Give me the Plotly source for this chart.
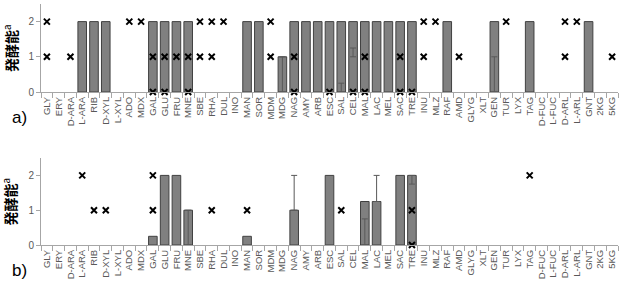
import plotly.graph_objects as go

categories = ["GLY","ERY","D-ARA","L-ARA","RIB","D-XYL","L-XYL","ADO","MDX","GAL","GLU","FRU","MNE","SBE",
              "RHA","DUL","INO","MAN","SOR","MDM","MDG","NAG","AMY","ARB","ESC","SAL","CEL","MAL","LAC","MEL",
              "SAC","TRE","INU","MLZ","RAF","AMD","GLYG","XLT","GEN","TUR","LYX","TAG","D-FUC","L-FUC","D-ARL",
              "L-ARL","GNT","2KG","5KG"]

# Panel a) bars
a_bar_cats = ["L-ARA","RIB","D-XYL","GAL","GLU","FRU","MNE","MAN","SOR","MDG","NAG","AMY","ARB","ESC","SAL",
              "CEL","MAL","LAC","MEL","SAC","TRE","RAF","GEN","TAG","GNT"]
a_bar_vals = [2,2,2,2,2,2,2,2,2,1,2,2,2,2,2,2,2,2,2,2,2,2,2,2,2]
# Panel a) individual points (x marks)
a_pt_cats = ["GLY","GLY","D-ARA","ADO","MDX","GAL","GAL","GLU","GLU","FRU","MNE","MNE","SBE","SBE","RHA","RHA",
             "DUL","MDM","MDM","NAG","NAG","ESC","CEL","MAL","MAL","SAC","SAC","TRE","INU","INU","MLZ","AMD",
             "TUR","D-ARL","D-ARL","L-ARL","5KG"]
a_pt_vals = [2,1,1,2,2,1,0,1,0,1,1,0,2,1,2,1,
             2,2,1,1,0,0,0,1,0,1,0,0,2,1,2,1,
             2,2,1,2,1]
# Panel a) error bar segments: category, base, plus
a_err_cats = ["MDG","SAL","CEL","GEN"]
a_err_base = [0, 0, 1.0, 0]
a_err_plus = [1, 0.25, 0.25, 1]

# Panel b) bars
b_bar_cats = ["GAL","GLU","FRU","MNE","MAN","NAG","ESC","MAL","LAC","SAC","TRE"]
b_bar_vals = [0.25,2,2,1,0.25,1,2,1.25,1.25,2,2]
b_pt_cats = ["L-ARA","RIB","D-XYL","GAL","GAL","RHA","MAN","SAL","TRE","TRE","TAG"]
b_pt_vals = [2,1,1,2,1,1,1,1,1,0,2]
b_err_cats = ["MNE","NAG","MAL","LAC","TRE"]
b_err_base = [0, 1, 0, 1.25, 1.75]
b_err_plus = [1, 1, 0.75, 0.75, 0.25]

fig = go.Figure()

def add_panel(bx, by, px, py, ec, eb, ep, xa, ya):
    fig.add_trace(go.Bar(x=bx, y=by, xaxis=xa, yaxis=ya, marker=dict(color="#808080",
                         line=dict(color="#404040", width=1)), showlegend=False, hoverinfo="skip"))
    fig.add_trace(go.Scatter(x=ec, y=eb, xaxis=xa, yaxis=ya, mode="markers",
                             marker=dict(size=1, color="rgba(0,0,0,0)"),
                             error_y=dict(type="data", symmetric=False, array=ep,
                                          arrayminus=[0]*len(ep), color="#595959", thickness=1, width=3),
                             showlegend=False, hoverinfo="skip"))
    fig.add_trace(go.Scatter(x=px, y=py, xaxis=xa, yaxis=ya, mode="markers",
                             marker=dict(symbol="x-thin", size=6, color="black",
                                         line=dict(color="black", width=2)),
                             showlegend=False, cliponaxis=False, hoverinfo="skip"))

add_panel(a_bar_cats, a_bar_vals, a_pt_cats, a_pt_vals, a_err_cats, a_err_base, a_err_plus, "x", "y")
add_panel(b_bar_cats, b_bar_vals, b_pt_cats, b_pt_vals, b_err_cats, b_err_base, b_err_plus, "x2", "y2")

tickfont = dict(family="Liberation Sans, Arial, sans-serif", size=9.5, color="#595959")
xcommon = dict(type="category", categoryorder="array", categoryarray=categories,
               range=[-0.5, len(categories) - 0.5], tickangle=-90, tickfont=tickfont,
               showline=True, linecolor="#a6a6a6", linewidth=1, ticks="outside", tickson="boundaries",
               ticklen=5, tickcolor="#a6a6a6", showgrid=False, zeroline=False, fixedrange=True)
ycommon = dict(range=[0, 2.5], tickvals=[0, 1, 2], tickfont=dict(family="Liberation Sans, Arial, sans-serif",
               size=10, color="#595959"), showline=True, linecolor="#a6a6a6", linewidth=1,
               ticks="outside", ticklen=4, tickcolor="#a6a6a6", showgrid=False, zeroline=False)

H = 302
top = 4
bottom = 57
ph = H - top - bottom
fig.update_layout(
    width=621, height=302,
    margin=dict(l=41, r=3, t=top, b=bottom),
    plot_bgcolor="white", paper_bgcolor="white",
    bargap=0.27,
    xaxis=dict(anchor="y", domain=[0, 1], **xcommon),
    yaxis=dict(anchor="x", domain=[1 - 88 / ph, 1], **ycommon),
    xaxis2=dict(anchor="y2", domain=[0, 1], **xcommon),
    yaxis2=dict(anchor="x2", domain=[0, 1 - 154 / ph], **ycommon),
)

ylab_font = dict(family="Noto Sans CJK JP", size=14, color="black")
for yc in [(1 - 88 / ph + 1) / 2, (1 - 154 / ph) / 2]:
    fig.add_annotation(text="<b>発酵能</b><sup>a</sup>", xref="paper", yref="paper", x=-31 / 577, y=yc,
                       textangle=-90, showarrow=False, font=ylab_font, xanchor="center", yanchor="middle")

panel_font = dict(family="Liberation Sans, Arial, sans-serif", size=17, color="black")
fig.add_annotation(text="a)", xref="paper", yref="paper", x=-22 / 577, y=1 - (117 - top) / ph,
                   showarrow=False, font=panel_font, xanchor="center", yanchor="middle")
fig.add_annotation(text="b)", xref="paper", yref="paper", x=-22 / 577, y=1 - (270 - top) / ph,
                   showarrow=False, font=panel_font, xanchor="center", yanchor="middle")

fig.write_html("out.html")
